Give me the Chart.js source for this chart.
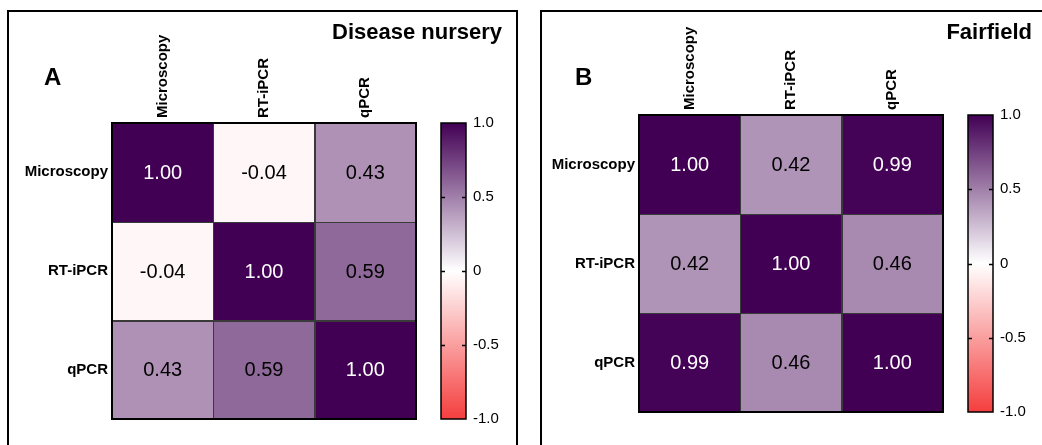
<!DOCTYPE html>
<html>
<head>
<meta charset="utf-8">
<title>Correlation heatmaps</title>
<script src="https://cdn.jsdelivr.net/npm/chart.js@4.4.1/dist/chart.umd.min.js"></script>
<style>
  html, body { margin: 0; padding: 0; background: #fff; }
  #wrap { position: relative; width: 1042px; height: 445px; overflow: hidden;
          font-family: "Liberation Sans", Arial, sans-serif; color: #000; }
  .panel { position: absolute; top: 10px; height: 470px; border: 2.5px solid #000; box-sizing: border-box; }
  .letter { position: absolute; font-weight: bold; font-size: 24px; line-height: 1; }
  .title { position: absolute; font-weight: bold; font-size: 22px; line-height: 1; white-space: nowrap; }
  canvas { position: absolute; top: 0; }
</style>
</head>
<body>
<div id="wrap">
  <div class="panel" style="left:7px; width:511px;"></div>
  <div class="panel" style="left:540px; width:520px;"></div>
  <canvas id="chartA" width="521" height="445" style="left:0;"></canvas>
  <canvas id="chartB" width="521" height="445" style="left:521px;"></canvas>
  <div class="letter" style="left:44px; top:65px;">A</div>
  <div class="title" style="right:540px; top:21px;">Disease nursery</div>
  <div class="letter" style="left:575px; top:65px;">B</div>
  <div class="title" style="right:10px; top:21px;">Fairfield</div>
</div>
<script>
const FONT = '"Liberation Sans", Arial, sans-serif';

// Methods compared (rows top to bottom, columns left to right)
const methods = ['Microscopy', 'RT-iPCR', 'qPCR'];

// Disease nursery: Pearson r, one array per row
const nurseryMicroscopy = [1.00, -0.04, 0.43];
const nurseryRTiPCR     = [-0.04, 1.00, 0.59];
const nurseryQPCR       = [0.43, 0.59, 1.00];

// Fairfield: Pearson r, one array per row
const fairfieldMicroscopy = [1.00, 0.42, 0.99];
const fairfieldRTiPCR     = [0.42, 1.00, 0.46];
const fairfieldQPCR       = [0.99, 0.46, 1.00];

// Colour bar ticks
const scaleTicks = [-1, -0.5, 0, 0.5, 1];
const scaleTickLabels = ['-1.0', '-0.5', '0', '0.5', '1.0'];

// Diverging palette: red (-1) -> white (0) -> dark purple (+1)
const HIGH = [66, 0, 84], MID = [255, 255, 255], LOW = [245, 62, 62];
function corrColor(v) {
  const t = Math.min(1, Math.abs(v));
  const end = v >= 0 ? HIGH : LOW;
  const c = MID.map((m, i) => Math.round(m + (end[i] - m) * t));
  return 'rgb(' + c.join(',') + ')';
}

// Cell outlines, value labels and the colour bar
const heatmapDecor = {
  id: 'heatmapDecor',
  afterDatasetsDraw(chart) {
    const ctx = chart.ctx;
    const a = chart.chartArea;
    ctx.save();
    chart.data.datasets.forEach((ds, di) => {
      const meta = chart.getDatasetMeta(di);
      meta.data.forEach((el, j) => {
        const p = el.getProps(['x', 'y', 'base', 'width'], true);
        const left = p.x - p.width / 2;
        const top = Math.min(p.y, p.base);
        const h = Math.abs(p.base - p.y);
        ctx.strokeStyle = '#3a3a3a';
        ctx.lineWidth = 1;
        ctx.strokeRect(Math.round(left) + 0.5, Math.round(top) + 0.5, Math.round(p.width), Math.round(h));
        const v = ds.corr[j];
        ctx.fillStyle = v > 0.75 ? '#fff' : '#000';
        ctx.font = '20px ' + FONT;
        ctx.textAlign = 'center';
        ctx.textBaseline = 'middle';
        ctx.fillText(v.toFixed(2), p.x, top + h / 2 + 1);
      });
    });
    ctx.strokeStyle = '#000';
    ctx.lineWidth = 2;
    ctx.strokeRect(a.left, a.top, a.right - a.left, a.bottom - a.top);

    // colour bar
    const cb = chart.scales.cb;
    const x0 = a.right + 25, w = 25;
    const yTop = cb.getPixelForValue(1), yBot = cb.getPixelForValue(-1);
    const g = ctx.createLinearGradient(0, yTop, 0, yBot);
    g.addColorStop(0, corrColor(1));
    g.addColorStop(0.5, corrColor(0));
    g.addColorStop(1, corrColor(-1));
    ctx.fillStyle = g;
    ctx.fillRect(x0, yTop, w, yBot - yTop);
    ctx.strokeStyle = '#000';
    ctx.lineWidth = 1.5;
    ctx.strokeRect(x0, yTop, w, yBot - yTop);
    scaleTicks.forEach(t => {
      if (Math.abs(t) === 1) return;
      const py = Math.round(cb.getPixelForValue(t)) + 0.5;
      ctx.beginPath();
      ctx.moveTo(x0, py); ctx.lineTo(x0 + 4, py);
      ctx.moveTo(x0 + w - 4, py); ctx.lineTo(x0 + w, py);
      ctx.stroke();
    });
    ctx.restore();
  }
};

function makeHeatmap(id, rows, box) {
  const canvas = document.getElementById(id);
  const W = canvas.width, H = canvas.height;
  const colFont = 15;
  return new Chart(canvas, {
    type: 'bar',
    data: {
      labels: methods,
      datasets: rows.map((vals, r) => ({
        label: methods[r],
        data: vals.map(() => 1),
        corr: vals,
        backgroundColor: vals.map(corrColor),
        borderWidth: 0,
        barPercentage: 1,
        categoryPercentage: 1
      }))
    },
    options: {
      responsive: false,
      animation: false,
      devicePixelRatio: 1,
      layout: { padding: { left: 0, top: 0, right: 0, bottom: H - box.bottom } },
      plugins: { legend: { display: false }, tooltip: { enabled: false }, title: { display: false } },
      scales: {
        x: {
          type: 'category', position: 'top', stacked: true, offset: true,
          grid: { display: false, drawTicks: false }, border: { display: false },
          ticks: { minRotation: 90, maxRotation: 90, autoSkip: false, padding: 5, color: '#000',
                   labelOffset: colFont * 1.2,
                   font: { family: FONT, size: colFont, weight: 'bold' } },
          afterFit: s => { s.height = box.top; s.paddingLeft = 0; s.paddingRight = 0; }
        },
        y: { type: 'linear', display: false, stacked: true, reverse: true, min: 0, max: 3 },
        rows: {
          type: 'category', labels: methods, position: 'left', offset: true,
          grid: { display: false, drawTicks: false }, border: { display: false },
          ticks: { padding: 4, color: '#000', font: { family: FONT, size: 15, weight: 'bold' } },
          afterFit: s => { s.width = box.left; s.paddingTop = 0; s.paddingBottom = 0; }
        },
        cb: {
          type: 'linear', position: 'right', min: -1, max: 1,
          afterBuildTicks: s => { s.ticks = scaleTicks.map(v => ({ value: v })); },
          grid: { display: false, drawTicks: false }, border: { display: false },
          ticks: { padding: 57, color: '#000', font: { family: FONT, size: 15 },
                   callback: v => scaleTickLabels[scaleTicks.indexOf(v)] },
          afterFit: s => { s.width = W - box.right; s.paddingTop = 0; s.paddingBottom = 0; }
        }
      }
    },
    plugins: [heatmapDecor]
  });
}

makeHeatmap('chartA', [nurseryMicroscopy, nurseryRTiPCR, nurseryQPCR],
            { left: 112, top: 123, right: 416, bottom: 419 });
makeHeatmap('chartB', [fairfieldMicroscopy, fairfieldRTiPCR, fairfieldQPCR],
            { left: 118, top: 115, right: 422, bottom: 412 });
</script>
</body>
</html>
